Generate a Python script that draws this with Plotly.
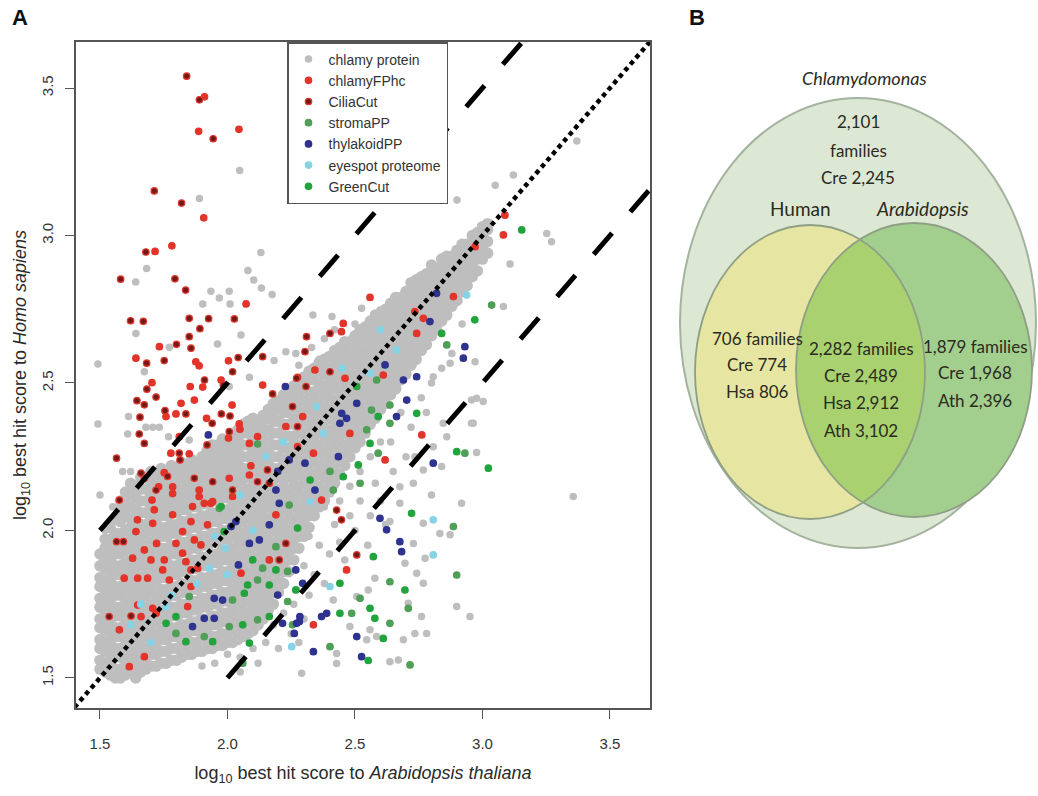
import numpy as np
import plotly.graph_objects as go

# ---------------- DATA ----------------
# dense grey cloud, by column: (x, [y values])
gray_cols = [
    (1.50, [1.53, 1.56, 1.60, 1.63, 1.67, 1.70, 1.74, 1.77, 1.81, 1.84, 1.88, 1.92]),
    (1.52, [1.52, 1.55, 1.59, 1.62, 1.66, 1.69, 1.73, 1.76, 1.80, 1.83, 1.87, 1.90, 1.94, 1.97]),
    (1.54, [1.51, 1.55, 1.58, 1.62, 1.65, 1.69, 1.72, 1.76, 1.79, 1.83, 1.86, 1.90, 1.93, 1.97, 2.01]),
    (1.56, [1.50, 1.53, 1.57, 1.60, 1.64, 1.67, 1.71, 1.74, 1.78, 1.81, 1.85, 1.88, 1.92, 1.95, 1.99, 2.04]),
    (1.58, [1.50, 1.53, 1.57, 1.60, 1.64, 1.67, 1.71, 1.74, 1.78, 1.81, 1.85, 1.88, 1.92, 1.95, 1.99, 2.03, 2.07, 2.10]),
    (1.60, [1.51, 1.54, 1.58, 1.61, 1.65, 1.68, 1.72, 1.75, 1.79, 1.82, 1.86, 1.89, 1.93, 1.96, 2.00, 2.05, 2.09, 2.13]),
    (1.62, [1.52, 1.55, 1.59, 1.62, 1.66, 1.69, 1.73, 1.76, 1.80, 1.83, 1.87, 1.90, 1.94, 1.97, 2.01, 2.04, 2.08, 2.12, 2.16]),
    (1.64, [1.50, 1.54, 1.57, 1.61, 1.64, 1.68, 1.71, 1.75, 1.78, 1.82, 1.85, 1.89, 1.92, 1.96, 1.99, 2.03, 2.07, 2.11, 2.15]),
    (1.66, [1.52, 1.56, 1.60, 1.63, 1.67, 1.70, 1.74, 1.77, 1.81, 1.84, 1.88, 1.91, 1.95, 1.98, 2.02, 2.06, 2.10, 2.14, 2.18]),
    (1.68, [1.53, 1.57, 1.60, 1.64, 1.67, 1.71, 1.74, 1.78, 1.81, 1.85, 1.88, 1.92, 1.95, 1.99, 2.02, 2.06, 2.10, 2.14, 2.18]),
    (1.70, [1.54, 1.58, 1.61, 1.65, 1.68, 1.72, 1.75, 1.79, 1.82, 1.86, 1.89, 1.93, 1.96, 2.00, 2.04, 2.08, 2.12, 2.16, 2.20]),
    (1.72, [1.54, 1.58, 1.62, 1.65, 1.69, 1.72, 1.76, 1.79, 1.83, 1.86, 1.90, 1.93, 1.97, 2.00, 2.04, 2.07, 2.11, 2.15, 2.19]),
    (1.74, [1.55, 1.59, 1.63, 1.66, 1.70, 1.73, 1.77, 1.80, 1.84, 1.87, 1.91, 1.94, 1.98, 2.01, 2.05, 2.09, 2.13, 2.17, 2.21]),
    (1.76, [1.55, 1.59, 1.63, 1.66, 1.70, 1.73, 1.77, 1.80, 1.84, 1.87, 1.91, 1.94, 1.98, 2.01, 2.05, 2.08, 2.12, 2.16, 2.20]),
    (1.78, [1.56, 1.60, 1.64, 1.67, 1.71, 1.74, 1.78, 1.81, 1.85, 1.88, 1.92, 1.95, 1.99, 2.02, 2.06, 2.10, 2.14, 2.18, 2.22]),
    (1.80, [1.56, 1.60, 1.64, 1.67, 1.71, 1.74, 1.78, 1.81, 1.85, 1.88, 1.92, 1.95, 1.99, 2.02, 2.06, 2.09, 2.13, 2.17, 2.21]),
    (1.82, [1.57, 1.61, 1.65, 1.68, 1.72, 1.75, 1.79, 1.82, 1.86, 1.89, 1.93, 1.96, 2.00, 2.03, 2.07, 2.11, 2.15, 2.19, 2.23]),
    (1.84, [1.58, 1.61, 1.65, 1.68, 1.72, 1.75, 1.79, 1.82, 1.86, 1.89, 1.93, 1.96, 2.00, 2.03, 2.07, 2.10, 2.14, 2.18, 2.22]),
    (1.86, [1.58, 1.62, 1.66, 1.69, 1.73, 1.76, 1.80, 1.83, 1.87, 1.90, 1.94, 1.97, 2.01, 2.04, 2.08, 2.12, 2.16, 2.20, 2.24]),
    (1.88, [1.59, 1.62, 1.66, 1.69, 1.73, 1.76, 1.80, 1.83, 1.87, 1.90, 1.94, 1.97, 2.01, 2.04, 2.08, 2.11, 2.15, 2.19, 2.23]),
    (1.90, [1.59, 1.63, 1.67, 1.70, 1.74, 1.77, 1.81, 1.84, 1.88, 1.91, 1.95, 1.98, 2.02, 2.05, 2.09, 2.13, 2.17, 2.21, 2.25]),
    (1.92, [1.60, 1.63, 1.67, 1.70, 1.74, 1.77, 1.81, 1.84, 1.88, 1.91, 1.95, 1.98, 2.02, 2.05, 2.09, 2.12, 2.16, 2.20, 2.24, 2.27]),
    (1.94, [1.60, 1.64, 1.68, 1.71, 1.75, 1.78, 1.82, 1.85, 1.89, 1.92, 1.96, 1.99, 2.03, 2.06, 2.10, 2.14, 2.18, 2.22, 2.26, 2.29]),
    (1.96, [1.61, 1.64, 1.68, 1.71, 1.75, 1.78, 1.82, 1.85, 1.89, 1.92, 1.96, 1.99, 2.03, 2.06, 2.10, 2.13, 2.17, 2.21, 2.25, 2.29]),
    (1.98, [1.61, 1.65, 1.69, 1.72, 1.76, 1.79, 1.83, 1.86, 1.90, 1.93, 1.97, 2.00, 2.04, 2.07, 2.11, 2.15, 2.19, 2.23, 2.27, 2.31]),
    (2.00, [1.62, 1.65, 1.69, 1.72, 1.76, 1.79, 1.83, 1.86, 1.90, 1.93, 1.97, 2.00, 2.04, 2.07, 2.11, 2.14, 2.18, 2.22, 2.26, 2.30]),
    (2.02, [1.62, 1.66, 1.70, 1.73, 1.77, 1.80, 1.84, 1.87, 1.91, 1.94, 1.98, 2.01, 2.05, 2.08, 2.12, 2.16, 2.20, 2.24, 2.28, 2.32]),
    (2.04, [1.63, 1.67, 1.70, 1.74, 1.77, 1.81, 1.84, 1.88, 1.91, 1.95, 1.98, 2.02, 2.05, 2.09, 2.12, 2.16, 2.19, 2.23, 2.27, 2.31, 2.34]),
    (2.06, [1.64, 1.68, 1.71, 1.75, 1.78, 1.82, 1.85, 1.89, 1.92, 1.96, 1.99, 2.03, 2.06, 2.10, 2.13, 2.17, 2.21, 2.25, 2.29, 2.33, 2.36]),
    (2.08, [1.65, 1.69, 1.72, 1.76, 1.79, 1.83, 1.86, 1.90, 1.93, 1.97, 2.00, 2.04, 2.07, 2.11, 2.14, 2.18, 2.21, 2.25, 2.29, 2.33, 2.37]),
    (2.10, [1.66, 1.70, 1.73, 1.77, 1.80, 1.84, 1.87, 1.91, 1.94, 1.98, 2.01, 2.05, 2.08, 2.12, 2.15, 2.19, 2.23, 2.27, 2.31, 2.35, 2.38]),
    (2.12, [1.68, 1.72, 1.75, 1.79, 1.82, 1.86, 1.89, 1.93, 1.96, 2.00, 2.03, 2.07, 2.10, 2.14, 2.17, 2.21, 2.25, 2.29, 2.33, 2.37]),
    (2.14, [1.70, 1.74, 1.77, 1.81, 1.84, 1.88, 1.91, 1.95, 1.98, 2.02, 2.05, 2.09, 2.12, 2.16, 2.19, 2.23, 2.27, 2.31, 2.35, 2.39]),
    (2.16, [1.73, 1.76, 1.80, 1.83, 1.87, 1.90, 1.94, 1.97, 2.01, 2.04, 2.08, 2.11, 2.15, 2.18, 2.22, 2.26, 2.30, 2.34, 2.38, 2.41]),
    (2.18, [1.75, 1.79, 1.82, 1.86, 1.89, 1.93, 1.96, 2.00, 2.03, 2.07, 2.10, 2.14, 2.17, 2.21, 2.25, 2.29, 2.33, 2.37, 2.40, 2.43]),
    (2.20, [1.79, 1.83, 1.86, 1.90, 1.93, 1.97, 2.00, 2.04, 2.07, 2.11, 2.14, 2.18, 2.21, 2.25, 2.29, 2.33, 2.37, 2.41, 2.44]),
    (2.22, [1.82, 1.86, 1.89, 1.93, 1.96, 2.00, 2.03, 2.07, 2.10, 2.14, 2.17, 2.21, 2.24, 2.28, 2.32, 2.36, 2.40, 2.43, 2.46]),
    (2.24, [1.86, 1.90, 1.93, 1.97, 2.00, 2.04, 2.07, 2.11, 2.14, 2.18, 2.21, 2.25, 2.28, 2.32, 2.36, 2.40, 2.44, 2.47]),
    (2.26, [1.90, 1.94, 1.97, 2.01, 2.04, 2.08, 2.11, 2.15, 2.18, 2.22, 2.25, 2.29, 2.32, 2.36, 2.39, 2.43, 2.46, 2.49]),
    (2.28, [1.94, 1.98, 2.01, 2.05, 2.08, 2.12, 2.15, 2.19, 2.22, 2.26, 2.29, 2.33, 2.36, 2.40, 2.43, 2.47, 2.50]),
    (2.30, [1.98, 2.02, 2.05, 2.09, 2.12, 2.16, 2.19, 2.23, 2.26, 2.30, 2.33, 2.37, 2.40, 2.44, 2.48, 2.52]),
    (2.32, [2.01, 2.05, 2.08, 2.12, 2.15, 2.19, 2.22, 2.26, 2.29, 2.33, 2.36, 2.40, 2.43, 2.47, 2.51, 2.54]),
    (2.34, [2.05, 2.09, 2.12, 2.16, 2.19, 2.23, 2.26, 2.30, 2.33, 2.37, 2.40, 2.44, 2.47, 2.51, 2.55]),
    (2.36, [2.08, 2.12, 2.15, 2.19, 2.22, 2.26, 2.29, 2.33, 2.36, 2.40, 2.43, 2.47, 2.50, 2.54, 2.57]),
    (2.38, [2.10, 2.14, 2.18, 2.21, 2.25, 2.28, 2.32, 2.35, 2.39, 2.42, 2.46, 2.49, 2.53, 2.56, 2.58]),
    (2.40, [2.13, 2.17, 2.20, 2.24, 2.27, 2.31, 2.34, 2.38, 2.41, 2.45, 2.48, 2.52, 2.55, 2.59]),
    (2.42, [2.16, 2.20, 2.23, 2.27, 2.30, 2.34, 2.37, 2.41, 2.44, 2.48, 2.51, 2.55, 2.58, 2.61]),
    (2.44, [2.19, 2.23, 2.26, 2.30, 2.33, 2.37, 2.40, 2.44, 2.47, 2.51, 2.54, 2.58, 2.62]),
    (2.46, [2.22, 2.26, 2.29, 2.33, 2.36, 2.40, 2.43, 2.47, 2.50, 2.54, 2.57, 2.61, 2.64]),
    (2.48, [2.25, 2.29, 2.32, 2.36, 2.39, 2.43, 2.46, 2.50, 2.53, 2.57, 2.60, 2.64]),
    (2.50, [2.28, 2.32, 2.35, 2.39, 2.42, 2.46, 2.49, 2.53, 2.56, 2.60, 2.63, 2.66]),
    (2.52, [2.30, 2.34, 2.37, 2.41, 2.44, 2.48, 2.51, 2.55, 2.58, 2.62, 2.66, 2.68]),
    (2.54, [2.33, 2.37, 2.40, 2.44, 2.47, 2.51, 2.54, 2.58, 2.61, 2.65, 2.69]),
    (2.56, [2.36, 2.40, 2.43, 2.47, 2.50, 2.54, 2.57, 2.61, 2.64, 2.68, 2.71]),
    (2.58, [2.38, 2.42, 2.45, 2.49, 2.52, 2.56, 2.59, 2.63, 2.66, 2.70, 2.73]),
    (2.60, [2.41, 2.45, 2.48, 2.52, 2.55, 2.59, 2.62, 2.66, 2.69, 2.73]),
    (2.62, [2.43, 2.47, 2.50, 2.54, 2.57, 2.61, 2.64, 2.68, 2.71, 2.75]),
    (2.64, [2.46, 2.50, 2.53, 2.57, 2.60, 2.64, 2.67, 2.71, 2.74, 2.77]),
    (2.66, [2.48, 2.52, 2.55, 2.59, 2.62, 2.66, 2.69, 2.73, 2.76, 2.79]),
    (2.68, [2.51, 2.55, 2.58, 2.62, 2.65, 2.69, 2.72, 2.76, 2.79]),
    (2.70, [2.53, 2.57, 2.60, 2.64, 2.67, 2.71, 2.74, 2.78, 2.81]),
    (2.72, [2.56, 2.60, 2.63, 2.67, 2.70, 2.74, 2.77, 2.81, 2.84]),
    (2.74, [2.58, 2.62, 2.65, 2.69, 2.72, 2.76, 2.79, 2.83, 2.85]),
    (2.76, [2.61, 2.65, 2.68, 2.72, 2.75, 2.79, 2.82, 2.86]),
    (2.78, [2.63, 2.67, 2.70, 2.74, 2.77, 2.81, 2.84, 2.87]),
    (2.80, [2.66, 2.70, 2.73, 2.77, 2.80, 2.84, 2.87, 2.90]),
    (2.82, [2.68, 2.72, 2.75, 2.79, 2.82, 2.86, 2.89]),
    (2.84, [2.71, 2.75, 2.78, 2.82, 2.85, 2.89, 2.92]),
    (2.86, [2.73, 2.77, 2.80, 2.84, 2.87, 2.91, 2.93]),
    (2.88, [2.76, 2.80, 2.83, 2.87, 2.90, 2.93]),
    (2.90, [2.78, 2.82, 2.85, 2.89, 2.92, 2.95]),
    (2.92, [2.81, 2.85, 2.88, 2.92, 2.95, 2.97]),
    (2.94, [2.83, 2.87, 2.90, 2.94, 2.97]),
    (2.96, [2.86, 2.90, 2.93, 2.97, 3.00]),
    (2.98, [2.88, 2.92, 2.95, 2.99, 3.01]),
    (3.00, [2.92, 2.96, 3.00, 3.03]),
    (3.02, [2.94, 2.98, 3.02, 3.04]),
]

# scattered grey points (x, y)
gray_sparse = [
    (2.048, 3.22), (1.89, 3.125), (2.131, 2.942), (1.683, 2.888), (1.64, 2.842), (2.08, 2.881),
    (2.103, 2.849), (2.133, 2.822), (2.175, 2.80), (1.935, 2.811), (2.007, 2.811), (1.968, 2.788),
    (1.903, 2.768), (2.01, 2.768), (1.641, 2.668), (2.053, 2.663), (1.772, 2.621), (1.961, 2.632),
    (2.183, 2.576), (2.229, 2.606), (2.268, 2.60), (1.492, 2.564), (1.674, 2.538), (2.007, 2.488),
    (2.086, 2.519), (1.612, 2.386), (1.492, 2.361), (1.609, 2.327), (1.68, 2.35), (1.707, 2.35),
    (1.733, 2.35), (1.769, 2.318), (1.85, 2.307), (1.589, 2.2), (1.62, 2.2), (3.121, 3.205),
    (3.252, 3.007), (3.271, 2.979), (3.108, 2.903), (3.082, 2.759), (2.971, 2.572), (2.977, 2.448),
    (3.003, 2.437), (2.964, 2.363), (2.977, 2.264), (3.356, 2.115), (3.37, 3.32), (2.90, 3.12),
    (3.05, 3.17), (2.335, 2.73), (2.41, 2.725), (2.526, 2.753), (2.598, 2.747), (2.69, 2.764),
    (2.873, 2.567), (2.807, 2.521), (2.957, 2.442), (2.846, 2.363), (2.807, 2.284), (2.957, 2.363),
    (2.86, 2.318), (2.84, 2.217), (2.768, 2.205), (2.676, 2.148), (2.729, 2.16), (2.735, 2.25),
    (2.918, 2.092), (2.80, 2.12), (2.676, 2.092), (2.637, 2.03), (2.768, 2.024), (2.833, 1.99),
    (2.873, 1.985), (2.729, 1.956), (2.775, 1.906), (2.742, 1.855), (2.696, 1.889), (2.578, 1.838),
    (2.768, 1.821), (2.899, 1.742), (2.951, 1.708), (2.709, 1.753), (2.761, 1.708), (2.781, 1.651),
    (2.735, 1.651), (2.69, 1.629), (2.637, 1.555), (2.67, 1.561), (2.552, 1.798), (2.507, 1.776),
    (2.415, 1.764), (2.48, 1.674), (2.559, 1.663), (2.428, 1.583), (2.428, 1.549), (2.291, 1.516),
    (2.546, 1.629), (2.585, 1.64), (2.26, 2.10), (2.30, 2.12), (2.34, 2.05), (2.38, 2.08),
    (2.42, 2.02), (2.28, 2.02), (2.32, 1.98), (2.36, 1.95), (2.26, 1.94), (2.30, 1.88),
    (2.40, 1.92), (2.44, 1.96), (2.34, 1.85), (2.27, 1.80), (2.38, 1.82), (2.48, 2.05),
    (2.52, 2.10), (2.46, 1.90), (2.50, 2.00), (2.56, 2.05), (2.60, 2.10), (2.55, 1.95),
    (2.62, 2.02), (2.58, 2.16), (2.65, 2.20), (2.70, 2.25), (2.64, 2.30), (2.68, 2.40),
    (2.72, 2.35), (2.76, 2.45), (2.80, 2.50), (2.78, 2.40), (2.84, 2.55), (2.88, 2.60),
    (2.92, 2.70), (2.52, 2.20), (2.56, 2.25), (2.60, 2.30), (2.48, 2.15), (2.44, 2.10),
    (1.95, 1.55), (2.00, 1.58), (2.05, 1.57), (2.10, 1.60), (2.15, 1.62), (2.20, 1.60),
    (2.12, 1.55), (2.25, 1.65), (2.05, 1.52), (1.90, 1.54), (2.18, 1.68), (2.22, 1.72),
    (2.26, 1.75), (2.28, 1.62), (2.30, 1.70), (2.32, 1.78), (1.52, 2.00), (1.55, 2.08),
    (1.50, 2.12), (2.33, 2.62), (2.38, 2.65), (2.45, 2.60), (2.50, 2.70), (2.36, 2.58),
    (2.28, 2.56), (2.42, 2.68),
]

fphc_pts = [
    (1.91, 3.47), (1.887, 3.353), (2.045, 3.36), (1.907, 3.06), (1.782, 2.965), (1.716, 2.946),
    (2.073, 2.768), (1.733, 2.623), (1.641, 2.584), (1.876, 2.572), (1.889, 2.558), (2.004, 2.575),
    (1.704, 2.501), (1.854, 2.488), (1.903, 2.486), (1.975, 2.51), (2.138, 2.493), (1.759, 2.386),
    (1.798, 2.395), (1.818, 2.431), (1.87, 2.442), (1.918, 2.38), (2.018, 2.425), (2.046, 2.361),
    (1.811, 2.318), (2.004, 2.313), (2.049, 2.343), (2.086, 2.295), (1.778, 2.262), (1.85, 2.26),
    (1.674, 2.177), (1.752, 2.196), (1.73, 2.148), (1.785, 2.148), (1.785, 2.125), (1.889, 2.137),
    (1.942, 2.098), (2.007, 2.177), (2.092, 2.219), (2.086, 2.188), (2.118, 2.318), (2.275, 2.284),
    (2.295, 2.386), (2.229, 2.352), (1.704, 2.103), (1.909, 2.092), (1.889, 2.115), (1.935, 2.092),
    (2.02, 2.115), (1.863, 2.081), (1.713, 2.07), (1.647, 2.036), (1.707, 2.024), (1.785, 2.053),
    (1.857, 2.03), (1.922, 2.019), (1.824, 1.996), (1.641, 1.996), (1.722, 1.956), (1.798, 1.956),
    (1.87, 1.968), (1.896, 1.951), (1.674, 1.934), (1.628, 1.906), (1.70, 1.90), (1.752, 1.90),
    (1.824, 1.923), (1.837, 1.894), (1.883, 1.872), (1.595, 1.838), (1.648, 1.838), (1.687, 1.838),
    (1.746, 1.866), (1.772, 1.832), (1.857, 1.81), (1.648, 1.747), (1.707, 1.736), (1.661, 1.708),
    (1.72, 1.719), (1.576, 1.663), (1.674, 1.572), (1.615, 1.538), (1.844, 1.742), (1.857, 1.866),
    (2.19, 2.053), (2.053, 1.855), (2.164, 1.90), (2.559, 2.79), (2.454, 2.702), (2.447, 2.674),
    (2.343, 2.544), (2.461, 2.516), (2.742, 2.668), (2.735, 2.742), (2.768, 2.719), (2.886, 2.793),
    (2.611, 2.527), (2.762, 2.324), (2.618, 2.239), (2.48, 2.329), (2.337, 2.262), (2.369, 2.103),
    (2.467, 1.866), (2.337, 1.68), (3.088, 3.069), (3.082, 3.002), (2.971, 2.962),
]

cilia_pts = [
    (1.84, 3.54), (1.89, 3.46), (1.944, 3.328), (1.713, 3.151), (1.82, 3.11), (1.68, 2.944),
    (1.581, 2.852), (1.794, 2.853), (1.836, 2.815), (1.62, 2.711), (1.67, 2.709), (1.85, 2.719),
    (1.926, 2.718), (2.027, 2.717), (1.892, 2.684), (1.85, 2.657), (1.80, 2.631), (1.857, 2.618),
    (1.683, 2.567), (1.752, 2.576), (2.042, 2.586), (2.138, 2.589), (1.684, 2.479), (1.72, 2.452),
    (1.645, 2.44), (1.674, 2.426), (1.91, 2.51), (1.984, 2.493), (2.02, 2.538), (2.177, 2.463),
    (2.275, 2.519), (2.308, 2.488), (1.657, 2.384), (1.755, 2.406), (1.837, 2.395), (1.94, 2.363),
    (1.976, 2.395), (2.01, 2.388), (1.654, 2.327), (1.674, 2.295), (1.92, 2.29), (2.007, 2.335),
    (1.811, 2.262), (1.814, 2.239), (1.565, 2.245), (1.661, 2.194), (1.765, 2.183), (1.72, 2.137),
    (1.87, 2.177), (1.942, 2.165), (2.02, 2.137), (2.118, 2.165), (2.157, 2.205), (2.164, 2.16),
    (2.275, 2.352), (2.255, 2.42), (1.576, 2.103), (1.565, 1.962), (1.592, 1.962), (1.536, 1.708),
    (1.622, 1.71), (2.229, 1.956), (2.203, 1.90), (2.402, 2.668), (2.31, 2.657), (2.304, 2.606),
    (2.402, 2.538), (2.271, 2.516), (2.428, 2.069), (2.447, 2.036), (2.507, 1.917),
]

stroma_pts = [
    (2.118, 2.293), (1.968, 2.075), (2.242, 2.086), (2.19, 1.945), (2.138, 1.872), (2.236, 1.861),
    (2.118, 1.832), (2.236, 1.759), (2.02, 1.764), (1.85, 1.776), (1.798, 1.651), (1.909, 1.64),
    (2.007, 1.674), (2.118, 1.697), (2.255, 1.68), (2.06, 1.55), (3.036, 2.764), (2.86, 2.629),
    (2.585, 2.51), (2.637, 2.425), (2.637, 2.363), (2.565, 2.408), (2.931, 2.262), (2.591, 2.262),
    (2.546, 2.341), (2.52, 2.16), (2.402, 2.2), (2.415, 2.137), (2.886, 2.013), (2.637, 1.826),
    (2.899, 1.849), (2.52, 1.77), (2.637, 1.685), (2.709, 1.736), (2.487, 1.719), (2.402, 1.606),
    (2.716, 1.544),
]

thylakoid_pts = [
    (2.227, 2.488), (1.925, 2.324), (2.197, 2.2), (2.19, 2.137), (2.242, 2.239), (2.033, 2.03),
    (2.014, 2.013), (2.086, 1.956), (2.125, 1.968), (2.164, 2.019), (2.203, 2.092), (2.268, 1.866),
    (2.043, 1.883), (2.197, 1.781), (2.295, 1.821), (1.948, 1.77), (1.981, 1.764), (1.863, 1.674),
    (1.909, 1.702), (1.948, 1.702), (2.216, 1.685), (2.262, 1.651), (2.282, 1.691), (2.82, 2.804),
    (2.794, 2.708), (2.931, 2.623), (2.925, 2.584), (2.742, 2.521), (2.69, 2.51), (2.618, 2.561),
    (2.703, 2.442), (2.663, 2.386), (2.507, 2.431), (2.448, 2.397), (2.467, 2.38), (2.807, 2.228),
    (2.441, 2.363), (2.304, 2.228), (2.435, 2.25), (2.343, 2.137), (2.598, 2.041), (2.624, 2.002),
    (2.676, 1.962), (2.683, 1.928), (2.389, 1.719), (2.369, 1.708), (2.284, 1.708), (2.271, 1.685),
    (2.507, 1.64), (2.337, 1.589), (2.526, 1.572),
]

eyespot_pts = [
    (1.991, 1.94), (1.759, 1.742), (1.929, 1.872), (2.938, 2.798), (2.663, 2.612), (2.559, 2.533),
    (2.376, 2.329), (2.324, 2.098), (2.807, 2.036), (2.807, 1.917), (2.402, 1.81), (2.252, 1.606),
    (1.62, 1.68), (1.70, 1.62), (1.78, 1.78), (1.95, 1.98), (2.05, 2.12), (2.15, 2.25),
    (1.88, 1.82), (2.22, 2.30), (2.35, 2.42), (1.66, 1.75), (2.00, 1.85), (2.10, 2.00),
    (2.45, 2.55), (2.60, 2.68),
]

greencut_pts = [
    (1.975, 2.081), (1.987, 1.996), (2.275, 2.008), (2.099, 1.90), (2.19, 1.866), (2.079, 1.815),
    (2.164, 1.815), (2.268, 1.798), (2.066, 1.787), (1.798, 1.708), (1.837, 1.623), (1.942, 1.623),
    (2.06, 1.68), (2.164, 1.708), (2.086, 1.618), (1.759, 1.685), (2.97, 2.714), (2.84, 2.668),
    (2.507, 2.488), (2.742, 2.397), (2.591, 2.386), (2.899, 2.267), (3.023, 2.211), (2.559, 2.295),
    (2.513, 2.222), (2.454, 2.182), (2.324, 2.171), (2.722, 2.058), (2.572, 1.911), (2.696, 1.798),
    (2.441, 1.821), (2.559, 1.736), (2.578, 1.702), (2.441, 1.719), (2.611, 1.634), (2.552, 1.559),
    (3.154, 3.019),
]

series_names = ["chlamy protein", "chlamyFPhc", "CiliaCut", "stromaPP",
                "thylakoidPP", "eyespot proteome", "GreenCut"]
ref_offsets = [0.0, 0.5, -0.5]          # y = x + offset reference lines
ref_starts = [1.40, 1.5, 2.0]

venn_labels = {
    "outer": ["2,101", "families", "Cre 2,245"],
    "human": ["706 families", "Cre 774", "Hsa 806"],
    "both": ["2,282 families", "Cre 2,489", "Hsa 2,912", "Ath 3,102"],
    "ath": ["1,879 families", "Cre 1,968", "Ath 2,396"],
}

# ---------------- FIGURE ----------------
W, H = 1038, 796
ML, MR, MT, MB = 76, 0, 42, 88
PW, PH = W - ML - MR, H - MT - MB


def px(xp):
    return (xp - ML) / PW


def py(yp):
    return (H - MB - yp) / PH


cloud_x = [c[0] for c in gray_cols for _ in c[1]]
cloud_y = [v for c in gray_cols for v in c[1]]
sparse_x = [p[0] for p in gray_sparse]
sparse_y = [p[1] for p in gray_sparse]

fig = go.Figure()
MS = 6.5
GREY = "#bebebe"
fig.add_trace(go.Scatter(x=sparse_x, y=sparse_y, mode="markers", name=series_names[0],
                         legendgroup="grey", marker=dict(color=GREY, size=7.5, line=dict(width=0))))
fig.add_trace(go.Scatter(x=cloud_x, y=cloud_y, mode="markers", name=series_names[0],
                         legendgroup="grey", showlegend=False,
                         marker=dict(color=GREY, size=11.5, line=dict(width=0))))
styles = [
    (fphc_pts, "#e3342a", "#e3342a"),
    (cilia_pts, "#761818", "#dd3a2e"),
    (stroma_pts, "#4f9f57", "#4f9f57"),
    (thylakoid_pts, "#2e338f", "#2e338f"),
    (eyespot_pts, "#86d3e6", "#86d3e6"),
    (greencut_pts, "#22a43c", "#22a43c"),
]
for name, (pts, col, lc) in zip(series_names[1:], styles):
    fig.add_trace(go.Scatter(x=[p[0] for p in pts], y=[p[1] for p in pts], mode="markers",
                             name=name, marker=dict(color=col, size=MS,
                                                    line=dict(color=lc, width=1.2))))

for off, x0 in zip(ref_offsets, ref_starts):
    xs = [x0, 3.8]
    ys = [v + off for v in xs]
    dash = "4.5px,4px" if off == 0 else "28px,28px"
    fig.add_trace(go.Scatter(x=xs, y=ys, mode="lines", showlegend=False, hoverinfo="skip",
                             line=dict(color="black", width=5 if off else 4.5, dash=dash)))

axis_common = dict(showgrid=False, zeroline=False, showline=True, mirror=True,
                   linecolor="#555555", linewidth=1.5, ticks="outside", ticklen=9,
                   tickwidth=1.3, tickcolor="#555555",
                   tickvals=[1.5, 2.0, 2.5, 3.0, 3.5], ticktext=["1.5", "2.0", "2.5", "3.0", "3.5"],
                   tickfont=dict(family="Liberation Sans, Arial", size=15, color="#333333"))

fig.update_layout(
    width=W, height=H,
    margin=dict(l=ML, r=MR, t=MT, b=MB),
    paper_bgcolor="white", plot_bgcolor="white",
    xaxis=dict(axis_common, range=[1.406, 3.657], domain=[0, px(650)],
               ticklabelstandoff=12,
               title=dict(text="log<sub>10</sub> best hit score to <i>Arabidopsis thaliana</i>",
                          font=dict(family="Liberation Sans, Arial", size=18, color="#2a2a2a"),
                          standoff=16)),
    yaxis=dict(axis_common, range=[1.398, 3.656], tickangle=-90, ticklabelstandoff=6,
               title=dict(text="log<sub>10</sub> best hit score to <i>Homo sapiens</i>",
                          font=dict(family="Liberation Sans, Arial", size=18, color="#2a2a2a"),
                          standoff=8)),
    legend=dict(x=px(287), y=1.0, xanchor="left", yanchor="top",
                bgcolor="white", bordercolor="#555555", borderwidth=1.5,
                font=dict(family="Liberation Sans, Arial", size=14, color="#333333"),
                itemwidth=30, tracegroupgap=0),
    showlegend=True,
)

# ---------------- VENN (panel B) ----------------
outer = dict(cx=858, cy=323, rx=178, ry=225)
human = dict(cx=810, cy=372, rx=115, ry=147)
ath = dict(cx=914, cy=370, rx=118, ry=147)


def ell_shape(e, fill, line, lw):
    return dict(type="circle", xref="paper", yref="paper",
                x0=px(e["cx"] - e["rx"]), x1=px(e["cx"] + e["rx"]),
                y0=py(e["cy"] + e["ry"]), y1=py(e["cy"] - e["ry"]),
                fillcolor=fill, line=dict(color=line, width=lw), layer="above")


def inside(e, x, y):
    return ((x - e["cx"]) / e["rx"]) ** 2 + ((y - e["cy"]) / e["ry"]) ** 2 <= 1.0


t = np.linspace(0, 2 * np.pi, 721)
ax_ = ath["cx"] + ath["rx"] * np.cos(t)
ay_ = ath["cy"] + ath["ry"] * np.sin(t)
hx_ = human["cx"] + human["rx"] * np.cos(t)
hy_ = human["cy"] + human["ry"] * np.sin(t)
ma = inside(human, ax_, ay_)
mh = inside(ath, hx_, hy_)
left_arc = sorted(zip(ax_[ma], ay_[ma]), key=lambda p: p[1])
right_arc = sorted(zip(hx_[mh], hy_[mh]), key=lambda p: -p[1])
lens = left_arc + right_arc
path = "M " + " L ".join(f"{px(a):.5f},{py(b):.5f}" for a, b in lens) + " Z"

shapes = [
    ell_shape(outer, "#dde8d4", "#a3b39e", 2),
    ell_shape(human, "#e6e6a2", "#a3b39e", 0),
    ell_shape(ath, "#a2ce8e", "#a3b39e", 0),
    dict(type="path", xref="paper", yref="paper", path=path, fillcolor="#a9d16f",
         line=dict(width=0), layer="above"),
    ell_shape(human, "rgba(0,0,0,0)", "#8f9f86", 1.8),
    ell_shape(ath, "rgba(0,0,0,0)", "#8f9f86", 1.8),
]
fig.update_layout(shapes=shapes)

VF = "Lato, Liberation Sans"
ann = []


def txt(s, xp, yp, size=17, italic=False, bold=False, color="#2b2b1e"):
    if italic:
        s = f"<i>{s}</i>"
    if bold:
        s = f"<b>{s}</b>"
    ann.append(dict(text=s, x=px(xp), y=py(yp), xref="paper", yref="paper",
                    xanchor="center", yanchor="middle", showarrow=False,
                    font=dict(family=VF, size=size, color=color)))


txt("Chlamydomonas", 864, 78, size=18, italic=True)
for s, yy in zip(venn_labels["outer"], [122, 150, 177]):
    txt(s, 858, yy)
txt("Human", 800, 208, size=19)
txt("Arabidopsis", 922, 208, size=19, italic=True)
for s, yy in zip(venn_labels["human"], [338, 364, 391]):
    txt(s, 757, yy)
for s, yy in zip(venn_labels["both"], [348, 375, 403, 430]):
    txt(s, 861, yy)
for s, yy in zip(venn_labels["ath"], [347, 373, 400]):
    txt(s, 975, yy)

ann.append(dict(text="<b>A</b>", x=px(20), y=py(18), xref="paper", yref="paper",
                xanchor="center", yanchor="middle", showarrow=False,
                font=dict(family="Liberation Sans, Arial", size=22, color="#111111")))
ann.append(dict(text="<b>B</b>", x=px(697), y=py(18), xref="paper", yref="paper",
                xanchor="center", yanchor="middle", showarrow=False,
                font=dict(family="Liberation Sans, Arial", size=22, color="#111111")))
fig.update_layout(annotations=ann)

fig.write_html("out.html", config={"displayModeBar": False},
               post_script="document.body.style.margin='0';")
